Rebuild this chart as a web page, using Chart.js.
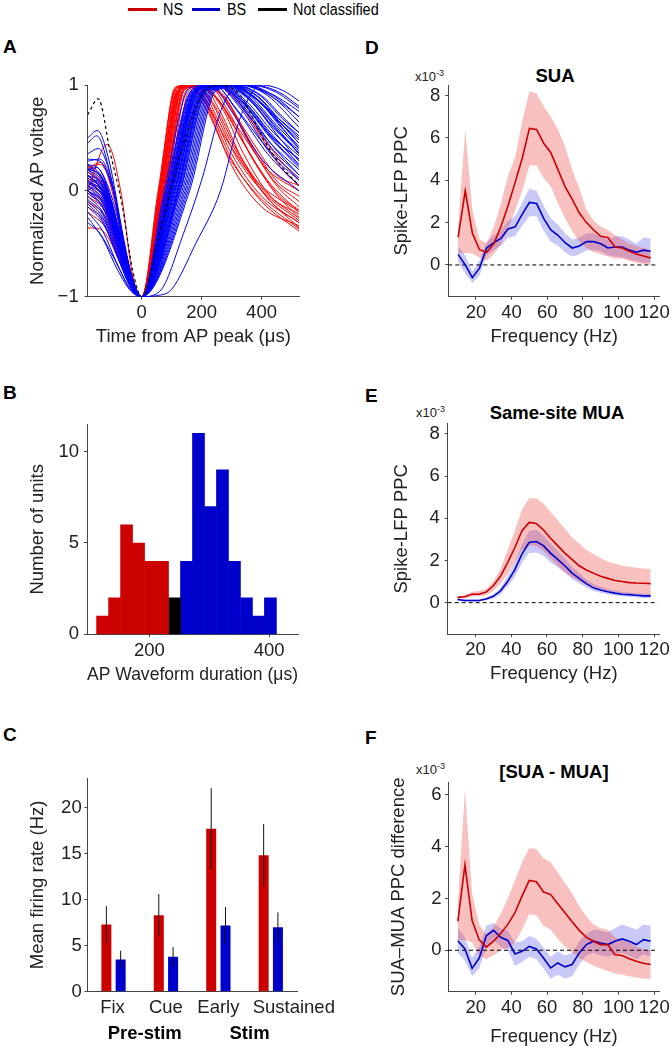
<!DOCTYPE html>
<html>
<head>
<meta charset="utf-8">
<title>Waveform classes and spike-LFP PPC</title>
<script src="https://cdn.jsdelivr.net/npm/chart.js@4.4.1/dist/chart.umd.min.js"></script>
<style>
  body { margin: 0; background: #fff; }
  #page { position: relative; width: 672px; height: 1048px; overflow: hidden;
          font-family: "Liberation Sans", Arial, sans-serif; color: #222; }
  #page canvas { position: absolute; }
  .letter { position: absolute; font-size: 19px; line-height: 19px; font-weight: bold; color: #000; }
  .ptitle { position: absolute; width: 240px; text-align: center; font-size: 18.5px; line-height: 18px; font-weight: bold; color: #000; }
  .sci { position: absolute; font-size: 13px; line-height: 13px; }
  .sci sup { font-size: 9px; line-height: 0; vertical-align: 5px; }
  .key { position: absolute; top: 8px; height: 3px; }
  .keytext { position: absolute; top: 2px; font-size: 16px; line-height: 16px; transform: scaleX(0.9); transform-origin: left; color: #000; }
</style>
</head>
<body>
<div id="page">
  <!-- shared legend -->
  <div class="key" style="left:128px;width:29px;background:#cc0000"></div>
  <div class="keytext" style="left:163px">NS</div>
  <div class="key" style="left:192px;width:28px;background:#0000cc"></div>
  <div class="keytext" style="left:227px">BS</div>
  <div class="key" style="left:258px;width:29px;background:#000"></div>
  <div class="keytext" style="left:293px">Not classified</div>

  <!-- panel letters -->
  <div class="letter" style="left:3px;top:36.5px">A</div>
  <div class="letter" style="left:3px;top:382.5px">B</div>
  <div class="letter" style="left:3px;top:724.8px">C</div>
  <div class="letter" style="left:365px;top:37.5px">D</div>
  <div class="letter" style="left:365px;top:385.8px">E</div>
  <div class="letter" style="left:365px;top:727.5px">F</div>

  <!-- right column titles -->
  <div class="ptitle" style="left:435px;top:66.5px">SUA</div>
  <div class="ptitle" style="left:437px;top:403.7px">Same-site MUA</div>
  <div class="ptitle" style="left:434px;top:763px">[SUA - MUA]</div>
  <div class="sci" style="left:415px;top:69.6px">x10<sup>-3</sup></div>
  <div class="sci" style="left:416px;top:406px">x10<sup>-3</sup></div>
  <div class="sci" style="left:416px;top:762.6px">x10<sup>-3</sup></div>

  <canvas id="chartA" width="330" height="300" style="left:0;top:60px"></canvas>
  <canvas id="chartB" width="330" height="300" style="left:0;top:400px"></canvas>
  <canvas id="chartC" width="340" height="308" style="left:0;top:740px"></canvas>
  <canvas id="chartD" width="332" height="300" style="left:340px;top:60px"></canvas>
  <canvas id="chartE" width="332" height="300" style="left:340px;top:400px"></canvas>
  <canvas id="chartF" width="332" height="308" style="left:340px;top:740px"></canvas>
</div>
<script>
// ---- A: normalized AP waveforms, keypoints [time (us), voltage] ----
const nsWaveforms = [
  [[-180,0.10],[-120,-0.10],[-60,-0.62],[0,-1],[60,0],[120,0.95],[170,1],[230,0.85],[300,0.45],[400,0.00],[525,-0.35]],
  [[-180,-0.10],[-120,-0.25],[-60,-0.70],[0,-1],[55,0],[115,0.97],[160,1],[220,0.80],[300,0.30],[400,-0.10],[525,-0.38]],
  [[-180,0.22],[-140,0.25],[-90,-0.05],[-40,-0.80],[0,-1],[65,0],[125,0.95],[180,1],[250,0.88],[320,0.55],[420,0.10],[525,-0.20]],
  [[-180,-0.35],[-140,-0.36],[-110,-0.45],[-60,-0.75],[0,-1],[70,0],[130,0.96],[190,1],[260,0.85],[340,0.45],[440,0.00],[525,-0.25]],
  [[-180,0.00],[-115,0.44],[-70,0.00],[-30,-0.80],[0,-1],[60,0],[118,0.97],[170,1],[240,0.90],[320,0.60],[420,0.20],[525,0.00]],
  [[-180,0.20],[-138,0.27],[-90,-0.10],[-40,-0.82],[0,-1],[75,0],[135,0.96],[200,1],[270,0.90],[350,0.55],[450,0.15],[525,0.05]],
  [[-180,0.15],[-120,-0.05],[-60,-0.60],[0,-1],[62,0],[122,0.97],[175,1],[235,0.75],[300,0.35],[400,-0.05],[525,-0.30]],
  [[-180,-0.05],[-120,-0.20],[-60,-0.68],[0,-1],[80,0],[140,0.95],[210,1],[280,0.85],[360,0.45],[450,0.05],[525,-0.15]],
  [[-180,0.25],[-120,0.05],[-60,-0.55],[0,-1],[58,0],[112,0.98],[155,1],[210,0.85],[280,0.50],[380,0.10],[525,-0.20]],
  [[-180,0.05],[-120,-0.12],[-60,-0.62],[0,-1],[90,0],[150,0.95],[230,1],[300,0.92],[380,0.60],[460,0.30],[525,0.10]],
  [[-180,0.08],[-120,-0.08],[-60,-0.60],[0,-1],[68,0],[128,0.96],[185,1],[250,0.70],[320,0.30],[420,-0.05],[525,-0.28]],
  [[-180,-0.15],[-120,-0.30],[-60,-0.72],[0,-1],[72,0],[132,0.96],[195,1],[265,0.80],[340,0.35],[430,-0.05],[525,-0.22]],
  [[-180,0.20],[-120,0.02],[-60,-0.55],[0,-1],[95,0],[160,0.95],[250,1],[320,0.85],[400,0.50],[470,0.20],[525,0.05]],
  [[-180,0.00],[-120,-0.15],[-60,-0.65],[0,-1],[66,0],[126,0.97],[180,1],[240,0.65],[300,0.24],[400,-0.15],[525,-0.33]],
  [[-180,0.12],[-120,0.00],[-60,-0.55],[0,-1],[85,0],[145,0.96],[220,1],[290,0.75],[370,0.30],[460,-0.05],[525,-0.18]],
  [[-180,-0.20],[-120,-0.35],[-60,-0.75],[0,-1],[78,0],[138,0.95],[205,1],[275,0.90],[350,0.50],[440,0.10],[525,-0.10]],
  [[-180,0.18],[-120,0.00],[-60,-0.58],[0,-1],[64,0],[124,0.96],[178,1],[245,0.80],[315,0.40],[410,0.00],[525,-0.26]],
  [[-180,-0.02],[-120,-0.18],[-60,-0.66],[0,-1],[74,0],[134,0.96],[198,1],[262,0.75],[335,0.30],[430,-0.10],[525,-0.30]],
  [[-180,0.10],[-120,-0.05],[-60,-0.60],[0,-1],[57,0],[114,0.97],[158,1],[215,0.78],[285,0.35],[390,-0.05],[525,-0.36]],
  [[-180,0.24],[-120,0.06],[-60,-0.52],[0,-1],[82,0],[142,0.96],[212,1],[285,0.85],[365,0.45],[455,0.08],[525,-0.05]]
];
const bsWaveforms = [
  [[-180,0.50],[-148,0.57],[-110,0.30],[-60,-0.45],[-25,-0.90],[0,-1],[100,0],[190,0.95],[260,1],[340,0.85],[430,0.55],[525,0.25]],
  [[-180,0.45],[-150,0.52],[-110,0.22],[-60,-0.50],[0,-1],[110,0],[200,0.95],[280,1],[360,0.88],[450,0.60],[525,0.35]],
  [[-180,0.20],[-150,0.22],[-100,-0.10],[-50,-0.70],[0,-1],[90,0],[180,0.96],[250,1],[330,0.80],[430,0.45],[525,0.20]],
  [[-180,0.10],[-130,-0.05],[-80,-0.45],[-35,-0.88],[0,-1],[120,0],[210,0.96],[290,1],[370,0.90],[460,0.65],[525,0.45]],
  [[-180,0.00],[-130,-0.15],[-80,-0.52],[-35,-0.90],[0,-1],[80,0],[170,0.96],[240,1],[320,0.75],[420,0.35],[525,0.05]],
  [[-180,-0.30],[-140,-0.40],[-90,-0.65],[-40,-0.92],[0,-1],[130,0],[220,0.95],[310,1],[400,0.90],[470,0.70],[525,0.55]],
  [[-180,0.25],[-140,0.20],[-90,-0.15],[-40,-0.78],[0,-1],[100,0],[190,0.96],[270,1],[350,0.82],[440,0.50],[525,0.30]],
  [[-180,0.15],[-130,0.05],[-80,-0.38],[-35,-0.85],[0,-1],[140,0],[230,0.95],[330,1],[420,0.92],[480,0.78],[525,0.65]],
  [[-180,-0.10],[-130,-0.25],[-80,-0.60],[-35,-0.90],[0,-1],[95,0],[185,0.96],[260,1],[340,0.80],[430,0.45],[525,0.15]],
  [[-180,0.05],[-130,-0.05],[-80,-0.45],[-35,-0.88],[0,-1],[50,-0.99],[100,-0.93],[180,-0.50],[263,0],[330,0.70],[400,1],[470,0.95],[525,0.85]],
  [[-180,0.30],[-140,0.28],[-95,0.00],[-45,-0.70],[0,-1],[115,0],[205,0.95],[285,1],[370,0.85],[460,0.55],[525,0.35]],
  [[-180,0.10],[-130,-0.02],[-80,-0.40],[-35,-0.86],[0,-1],[150,0],[240,0.95],[350,1],[440,0.90],[525,0.70]],
  [[-180,-0.20],[-130,-0.38],[-80,-0.70],[-35,-0.94],[0,-1],[85,0],[175,0.96],[245,1],[330,0.78],[430,0.35],[525,0.10]],
  [[-180,0.00],[-130,-0.10],[-80,-0.48],[-35,-0.88],[0,-1],[105,0],[195,0.96],[275,1],[360,0.90],[450,0.62],[525,0.40]],
  [[-180,0.20],[-140,0.15],[-90,-0.25],[-40,-0.80],[0,-1],[60,-0.95],[140,-0.40],[200,0.10],[270,0.80],[330,1],[420,0.90],[525,0.60]],
  [[-180,0.15],[-130,0.00],[-80,-0.42],[-35,-0.86],[0,-1],[125,0],[215,0.95],[300,1],[390,0.88],[470,0.62],[525,0.45]],
  [[-180,-0.05],[-130,-0.20],[-80,-0.55],[-35,-0.90],[0,-1],[75,0],[160,0.97],[230,1],[300,0.75],[400,0.30],[525,0.00]],
  [[-180,0.35],[-145,0.40],[-100,0.10],[-50,-0.62],[0,-1],[110,0],[200,0.95],[280,1],[360,0.86],[460,0.50],[525,0.28]],
  [[-180,0.05],[-130,-0.08],[-80,-0.46],[-35,-0.87],[0,-1],[135,0],[225,0.95],[320,1],[410,0.93],[480,0.80],[525,0.70]],
  [[-180,0.12],[-130,0.00],[-80,-0.40],[-35,-0.85],[0,-1],[98,0],[188,0.96],[265,1],[350,0.88],[440,0.60],[525,0.38]],
  [[-180,-0.15],[-130,-0.30],[-80,-0.62],[-35,-0.92],[0,-1],[118,0],[208,0.95],[295,1],[380,0.88],[465,0.60],[525,0.42]],
  [[-180,0.20],[-130,0.08],[-80,-0.35],[-35,-0.84],[0,-1],[160,0],[250,0.95],[370,1],[460,0.93],[525,0.80]],
  [[-180,0.00],[-130,-0.12],[-80,-0.50],[-35,-0.88],[0,-1],[88,0],[178,0.96],[250,1],[330,0.85],[430,0.50],[525,0.22]],
  [[-180,0.25],[-130,0.12],[-80,-0.32],[-35,-0.83],[0,-1],[108,0],[198,0.96],[278,1],[360,0.92],[450,0.70],[525,0.52]],
  [[-180,-0.25],[-130,-0.45],[-80,-0.75],[-35,-0.95],[0,-1],[70,-0.60],[120,0],[210,0.95],[300,1],[390,0.85],[525,0.40]],
  [[-180,0.05],[-150,0.10],[-100,-0.20],[-50,-0.75],[0,-1],[92,0],[182,0.96],[255,1],[335,0.84],[430,0.52],[525,0.30]],
  [[-180,0.18],[-130,0.05],[-80,-0.38],[-35,-0.85],[0,-1],[102,0],[192,0.96],[268,1],[345,0.86],[440,0.55],[525,0.33]],
  [[-180,-0.08],[-130,-0.22],[-80,-0.58],[-35,-0.90],[0,-1],[112,0],[202,0.95],[282,1],[365,0.90],[455,0.66],[525,0.48]],
  [[-180,0.08],[-130,-0.04],[-80,-0.44],[-35,-0.87],[0,-1],[128,0],[218,0.95],[305,1],[395,0.90],[470,0.68],[525,0.55]],
  [[-180,0.22],[-130,0.10],[-80,-0.33],[-35,-0.84],[0,-1],[93,0],[183,0.96],[255,1],[335,0.80],[435,0.40],[525,0.15]],
  [[-180,-0.02],[-130,-0.16],[-80,-0.53],[-35,-0.89],[0,-1],[145,0],[235,0.95],[340,1],[430,0.92],[500,0.80],[525,0.75]],
  [[-180,0.03],[-130,-0.10],[-80,-0.47],[-35,-0.88],[0,-1],[82,0],[172,0.96],[242,1],[315,0.78],[420,0.40],[525,0.12]],
  [[-180,0.28],[-140,0.30],[-95,0.02],[-45,-0.68],[0,-1],[122,0],[212,0.95],[298,1],[385,0.90],[465,0.66],[525,0.50]],
  [[-180,-0.12],[-130,-0.28],[-80,-0.63],[-35,-0.92],[0,-1],[103,0],[193,0.96],[272,1],[355,0.88],[445,0.58],[525,0.36]],
  [[-180,0.14],[-130,0.02],[-80,-0.41],[-35,-0.86],[0,-1],[155,0],[245,0.95],[360,1],[450,0.93],[525,0.78]],
  [[-180,0.00],[-150,0.05],[-100,-0.25],[-50,-0.78],[0,-1],[96,0],[186,0.96],[262,1],[345,0.82],[440,0.48],[525,0.24]]
];
const unclassifiedWaveform = [[-180,0.72],[-145,0.87],[-104,0.35],[-66,-0.12],[-30,-0.75],[0,-1],[60,-0.40],[130,0.35],[200,0.90],[260,1],[330,0.90],[400,0.52],[470,0.22],[525,0.05]];
const waveTicksX = [0, 200, 400];
const waveTicksY = [-1, 0, 1];

// ---- B: waveform duration histogram ----
const binCenters = [122, 142, 162, 182, 202, 222, 242, 262, 282, 302, 322, 342, 362, 382, 402];
const nsCounts = [1, 2, 6, 5, 4, 4, 0, 0, 0, 0, 0, 0, 0, 0, 0];
const ncCounts = [0, 0, 0, 0, 0, 0, 2, 0, 0, 0, 0, 0, 0, 0, 0];
const bsCounts = [0, 0, 0, 0, 0, 0, 0, 4, 11, 7, 9, 4, 2, 1, 2];
const durTicks = [200, 400];
const countTicks = [0, 5, 10];

// ---- C: mean firing rate ----
const epochs = ['Fix', 'Cue', 'Early', 'Sustained'];
const epochGroups = [['Pre-stim', 0, 1], ['Stim', 2, 3]];
const nsRate = [7.3, 8.3, 17.7, 14.8];
const nsRateErr = [2.0, 2.3, 4.4, 3.4];
const bsRate = [3.5, 3.8, 7.2, 7.0];
const bsRateErr = [0.95, 1.05, 2.0, 1.6];
const rateTicks = [0, 5, 10, 15, 20];

// ---- D-F: spike-LFP PPC (x10^-3) ----
const freqs = [10,14,18,22,26,30,34,38,42,46,50,54,58,62,66,70,74,78,82,86,90,94,98,102,106,110,114,118];
const freqTicks = [20, 40, 60, 80, 100, 120];
const ppcTicks = [0, 2, 4, 6, 8];
const diffTicks = [0, 2, 4, 6];

const suaNs   = [1.3,3.5,1.5,0.72,0.6,1.0,1.8,2.8,3.9,5.05,6.45,6.4,5.75,5.3,4.5,3.7,3.1,2.45,2.0,1.65,1.35,1.3,0.85,0.8,0.65,0.52,0.42,0.33];
const suaNsHi = [1.8,6.4,2.6,1.2,1.0,1.8,2.9,4.2,5.1,6.8,8.2,8.1,7.5,7.0,6.4,5.6,4.5,3.6,2.6,2.1,1.8,1.65,1.4,1.2,1.0,0.9,0.8,0.7];
const suaNsLo = [0.55,0.55,0.55,0.35,0.2,0.5,1.0,1.7,2.6,3.5,4.7,4.7,4.1,3.7,2.9,2.2,1.6,1.1,0.8,0.6,0.5,0.4,0.3,0.3,0.2,0.1,0.05,0.0];
const suaBs   = [0.5,0.0,-0.6,-0.15,0.8,1.05,1.25,1.7,1.8,2.4,2.95,2.9,2.2,1.65,1.4,1.05,0.8,0.9,1.1,1.1,1.0,0.8,0.85,0.85,0.7,0.6,0.7,0.65];
const suaBsHi = [0.9,0.45,-0.3,0.2,1.1,1.4,1.6,2.1,2.3,2.95,3.6,3.5,2.8,2.2,1.9,1.5,1.2,1.3,1.5,1.5,1.35,1.2,1.35,1.35,1.2,1.0,1.3,1.25];
const suaBsLo = [0.15,-0.4,-0.85,-0.5,0.45,0.7,0.9,1.3,1.35,1.85,2.3,2.3,1.6,1.1,0.9,0.6,0.4,0.5,0.7,0.7,0.65,0.45,0.4,0.35,0.25,0.2,0.1,0.1];

const muaNs   = [0.25,0.28,0.4,0.4,0.5,0.8,1.25,1.9,2.6,3.4,3.8,3.75,3.45,3.05,2.7,2.35,2.05,1.75,1.55,1.4,1.25,1.15,1.05,1.0,0.95,0.93,0.92,0.9];
const muaNsHi = [0.3,0.35,0.5,0.55,0.65,1.0,1.6,2.5,3.4,4.4,4.95,4.95,4.7,4.3,3.9,3.5,3.1,2.8,2.5,2.3,2.1,1.95,1.85,1.75,1.7,1.65,1.62,1.6];
const muaNsLo = [0.2,0.2,0.3,0.3,0.35,0.55,0.9,1.35,1.9,2.5,2.7,2.7,2.45,2.1,1.75,1.45,1.2,1.0,0.85,0.75,0.65,0.55,0.5,0.45,0.42,0.4,0.38,0.35];
const muaBs   = [0.15,0.1,0.1,0.1,0.17,0.3,0.55,1.0,1.55,2.3,2.85,2.9,2.7,2.35,2.05,1.75,1.4,1.15,0.9,0.7,0.6,0.52,0.45,0.4,0.38,0.35,0.32,0.32];
const muaBsHi = [0.2,0.15,0.15,0.15,0.23,0.4,0.7,1.25,1.9,2.75,3.4,3.45,3.2,2.8,2.45,2.1,1.7,1.4,1.1,0.88,0.75,0.65,0.57,0.5,0.48,0.45,0.42,0.42];
const muaBsLo = [0.1,0.05,0.05,0.05,0.11,0.2,0.4,0.78,1.22,1.88,2.35,2.38,2.22,1.92,1.68,1.42,1.12,0.92,0.72,0.55,0.47,0.4,0.34,0.3,0.28,0.25,0.22,0.22];

const diffNs   = [1.12,3.3,1.15,0.4,0.12,0.35,0.65,1.0,1.45,2.1,2.7,2.65,2.25,2.15,1.8,1.45,1.1,0.77,0.5,0.35,0.22,0.22,-0.17,-0.2,-0.33,-0.42,-0.5,-0.55];
const diffNsHi = [1.8,6.2,2.2,1.0,0.6,0.9,1.4,2.0,2.7,3.4,3.95,3.9,3.55,3.4,3.0,2.6,2.2,1.7,1.3,1.0,0.85,0.8,0.5,0.4,0.3,0.15,0.05,0.0];
const diffNsLo = [0.4,0.4,0.3,-0.2,-0.35,-0.2,0.0,0.1,0.3,0.8,1.4,1.35,0.95,0.8,0.45,0.15,-0.1,-0.3,-0.45,-0.6,-0.7,-0.8,-0.9,-0.95,-1.0,-1.05,-1.1,-1.1];
const diffBs   = [0.37,0.05,-0.7,-0.3,0.57,0.77,0.5,0.38,-0.14,-0.04,0.15,0.05,-0.3,-0.68,-0.49,-0.64,-0.55,-0.1,0.22,0.35,0.28,0.22,0.35,0.44,0.35,0.22,0.41,0.35];
const diffBsHi = [0.85,0.5,-0.3,0.15,0.95,1.05,0.85,0.75,0.3,0.35,0.55,0.45,0.1,-0.25,-0.05,-0.2,-0.1,0.35,0.65,0.8,0.75,0.7,0.85,1.0,0.9,0.8,1.0,0.95];
const diffBsLo = [-0.1,-0.4,-1.0,-0.7,0.15,0.4,0.15,0.0,-0.6,-0.45,-0.25,-0.35,-0.7,-1.1,-0.95,-1.1,-1.0,-0.55,-0.2,-0.1,-0.2,-0.25,-0.15,-0.1,-0.2,-0.35,-0.15,-0.25];

// ---- shared styling ----
const AXIS = '#444';
const INK = '#222';
const NS = '#cc0000', BS = '#0000cc';
const NS_FILL = 'rgba(235,60,60,0.32)';
const BS_FILL = 'rgba(60,60,230,0.28)';
const FONT = '"Liberation Sans", Arial, sans-serif';
Chart.defaults.font.family = FONT;
Chart.defaults.font.size = 18.5;
Chart.defaults.color = INK;

const minus = v => String(v).replace('-', '\u2212');
const toXY = pts => pts.map(([x, y]) => ({x, y}));
const onFreqs = ys => ys.map((y, i) => ({x: freqs[i], y}));

// axis with a fixed box size so the plot areas line up with the figure
function axis(o) {
  const a = {
    type: o.type || 'linear',
    offset: !!o.offset,
    afterFit: s => { if (s.isHorizontal()) s.height = o.size; else s.width = o.size; },
    border: {display: true, color: AXIS, width: 1},
    grid: {display: !o.noMarks, drawOnChartArea: false, drawTicks: true, tickLength: 3, color: AXIS, offset: false},
    ticks: {display: !o.noLabels, padding: o.pad, color: INK, autoSkip: false, maxRotation: 0},
    title: {display: !!o.title, text: o.title || '', color: INK, padding: {top: o.tpad || 0, bottom: o.tpad || 0}}
  };
  if (o.min !== undefined) { a.min = o.min; a.max = o.max; }
  if (o.at) {
    a.afterBuildTicks = s => { s.ticks = o.at.map(v => ({value: v})); };
    a.ticks.callback = minus;
  }
  return a;
}

function base(padding, x, y) {
  return {
    responsive: false, animation: false, events: [],
    layout: {padding: Object.assign({left: 0, bottom: 0}, padding)},
    plugins: {legend: {display: false}, tooltip: {enabled: false}},
    scales: {x, y}
  };
}

// ---- A ----
const waveSet = (pts, color, dash) => ({
  data: toXY(pts), borderColor: color, borderWidth: dash ? 1.2 : 1, borderDash: dash || [],
  pointRadius: 0, cubicInterpolationMode: 'monotone', fill: false
});
new Chart(document.getElementById('chartA'), {
  type: 'line',
  data: {datasets: [
    waveSet(unclassifiedWaveform, '#000', [3, 3]),
    ...bsWaveforms.map(w => waveSet(w, '#0000ff')),
    ...nsWaveforms.map(w => waveSet(w, '#ff0000'))
  ]},
  options: base({top: 25, right: 31},
    axis({min: -180, max: 525, at: waveTicksX, size: 63.3, pad: 2.5, title: 'Time from AP peak (\u03bcs)', tpad: 11.9}),
    axis({min: -1, max: 1, at: waveTicksY, size: 87.7, pad: 6, title: 'Normalized AP voltage', tpad: 26.9}))
});

// ---- B ----
const histSet = (counts, color) => ({
  data: binCenters.map((x, i) => ({x, y: counts[i]})).filter(p => p.y > 0),
  backgroundColor: color, borderWidth: 0, barPercentage: 1, categoryPercentage: 1, grouped: false
});
new Chart(document.getElementById('chartB'), {
  type: 'bar',
  data: {datasets: [histSet(nsCounts, NS), histSet(ncCounts, '#000'), histSet(bsCounts, BS)]},
  options: base({top: 24.3, right: 32},
    axis({min: 96, max: 448, at: durTicks, size: 65.7, pad: 2.4, title: 'AP Waveform duration (\u03bcs)', tpad: 14.4}),
    axis({min: 0, max: 11.5, at: countTicks, size: 87, pad: 5, title: 'Number of units', tpad: 26.4}))
});

// ---- C ----
const errorBars = {
  id: 'errorBars',
  afterDatasetsDraw(chart) {
    const {ctx} = chart;
    const y = chart.scales.y;
    chart.data.datasets.forEach((ds, di) => {
      chart.getDatasetMeta(di).data.forEach((bar, i) => {
        ctx.save();
        ctx.strokeStyle = '#111';
        ctx.lineWidth = 1;
        ctx.beginPath();
        ctx.moveTo(bar.x, y.getPixelForValue(ds.data[i] - ds.errors[i]));
        ctx.lineTo(bar.x, y.getPixelForValue(ds.data[i] + ds.errors[i]));
        ctx.stroke();
        ctx.restore();
      });
    });
  }
};
// epoch names under each group, then the bold group names; the last name sits
// right of its bars as in the original figure
const epochLabels = {
  id: 'epochLabels',
  afterDraw(chart) {
    const {ctx, chartArea} = chart;
    const x = chart.scales.x;
    const nudge = [-1, 0, 0, 23];
    ctx.save();
    ctx.fillStyle = INK;
    ctx.textAlign = 'center';
    ctx.textBaseline = 'middle';
    ctx.font = '18.5px ' + FONT;
    epochs.forEach((name, i) => ctx.fillText(name, x.getPixelForValue(i) + nudge[i], chartArea.bottom + 16.3));
    ctx.fillStyle = '#000';
    ctx.font = 'bold 18.5px ' + FONT;
    epochGroups.forEach(([name, from, to]) => {
      const cx = (x.getPixelForValue(from) + x.getPixelForValue(to)) / 2 + 5;
      ctx.fillText(name, cx, chartArea.bottom + 42.3);
    });
    ctx.restore();
  }
};
new Chart(document.getElementById('chartC'), {
  type: 'bar',
  data: {labels: epochs, datasets: [
    {data: nsRate, errors: nsRateErr, backgroundColor: NS, borderWidth: 0, categoryPercentage: 0.545, barPercentage: 0.7},
    {data: bsRate, errors: bsRateErr, backgroundColor: BS, borderWidth: 0, categoryPercentage: 0.545, barPercentage: 0.7}
  ]},
  options: base({top: 38, right: 43},
    axis({type: 'category', offset: true, noMarks: true, noLabels: true, size: 56.3, pad: 2.2}),
    axis({min: 0, max: 23.2, at: rateTicks, size: 87.3, pad: 2.6, title: 'Mean firing rate (Hz)', tpad: 27.2})),
  plugins: [errorBars, epochLabels]
});

// ---- D-F ----
function ppcPanel(id, o) {
  const line = (ys, color) => ({data: onFreqs(ys), borderColor: color, borderWidth: 1.6, pointRadius: 0, fill: false});
  const band = (ys, color, to) => ({data: onFreqs(ys), borderColor: 'transparent', borderWidth: 0, pointRadius: 0, backgroundColor: color, fill: to});
  new Chart(document.getElementById(id), {
    type: 'line',
    data: {datasets: [
      line(o.ns, NS), line(o.bs, BS),
      {data: [{x: 4.5, y: 0}, {x: 122, y: 0}], borderColor: '#000', borderWidth: 1, borderDash: [4, 3], pointRadius: 0, fill: false},
      band(o.nsHi, NS_FILL, '+1'), band(o.nsLo, NS_FILL, false),
      band(o.bsHi, BS_FILL, '+1'), band(o.bsLo, BS_FILL, false)
    ]},
    options: base({top: o.top, right: 12},
      axis({min: 4.5, max: 123.2, at: freqTicks, size: o.xSize, pad: 2, title: 'Frequency (Hz)', tpad: o.xtpad}),
      axis({min: o.yMin, max: o.yMax, at: o.yTicks, size: o.ySize, pad: o.ypad, title: o.yTitle, tpad: o.ytpad}))
  });
}
ppcPanel('chartD', {ns: suaNs, nsHi: suaNsHi, nsLo: suaNsLo, bs: suaBs, bsHi: suaBsHi, bsLo: suaBsLo,
  top: 25, xSize: 63.3, xtpad: 11.9, yMin: -1.5, yMax: 8.5, yTicks: ppcTicks, ySize: 108.3, ypad: 5,
  yTitle: 'Spike-LFP PPC', ytpad: 50.9});
ppcPanel('chartE', {ns: muaNs, nsHi: muaNsHi, nsLo: muaNsLo, bs: muaBs, bsHi: muaBsHi, bsLo: muaBsLo,
  top: 23.3, xSize: 65.7, xtpad: 14.9, yMin: -1.5, yMax: 8.5, yTicks: ppcTicks, ySize: 107.7, ypad: 5,
  yTitle: 'Spike-LFP PPC', ytpad: 50.9});
ppcPanel('chartF', {ns: diffNs, nsHi: diffNsHi, nsLo: diffNsLo, bs: diffBs, bsHi: diffBsHi, bsLo: diffBsLo,
  top: 42, xSize: 56.3, xtpad: 0, yMin: -1.6, yMax: 6.5, yTicks: diffTicks, ySize: 108, ypad: 3.5,
  yTitle: 'SUA\u2013MUA PPC difference', ytpad: 47.9});
</script>
</body>
</html>
